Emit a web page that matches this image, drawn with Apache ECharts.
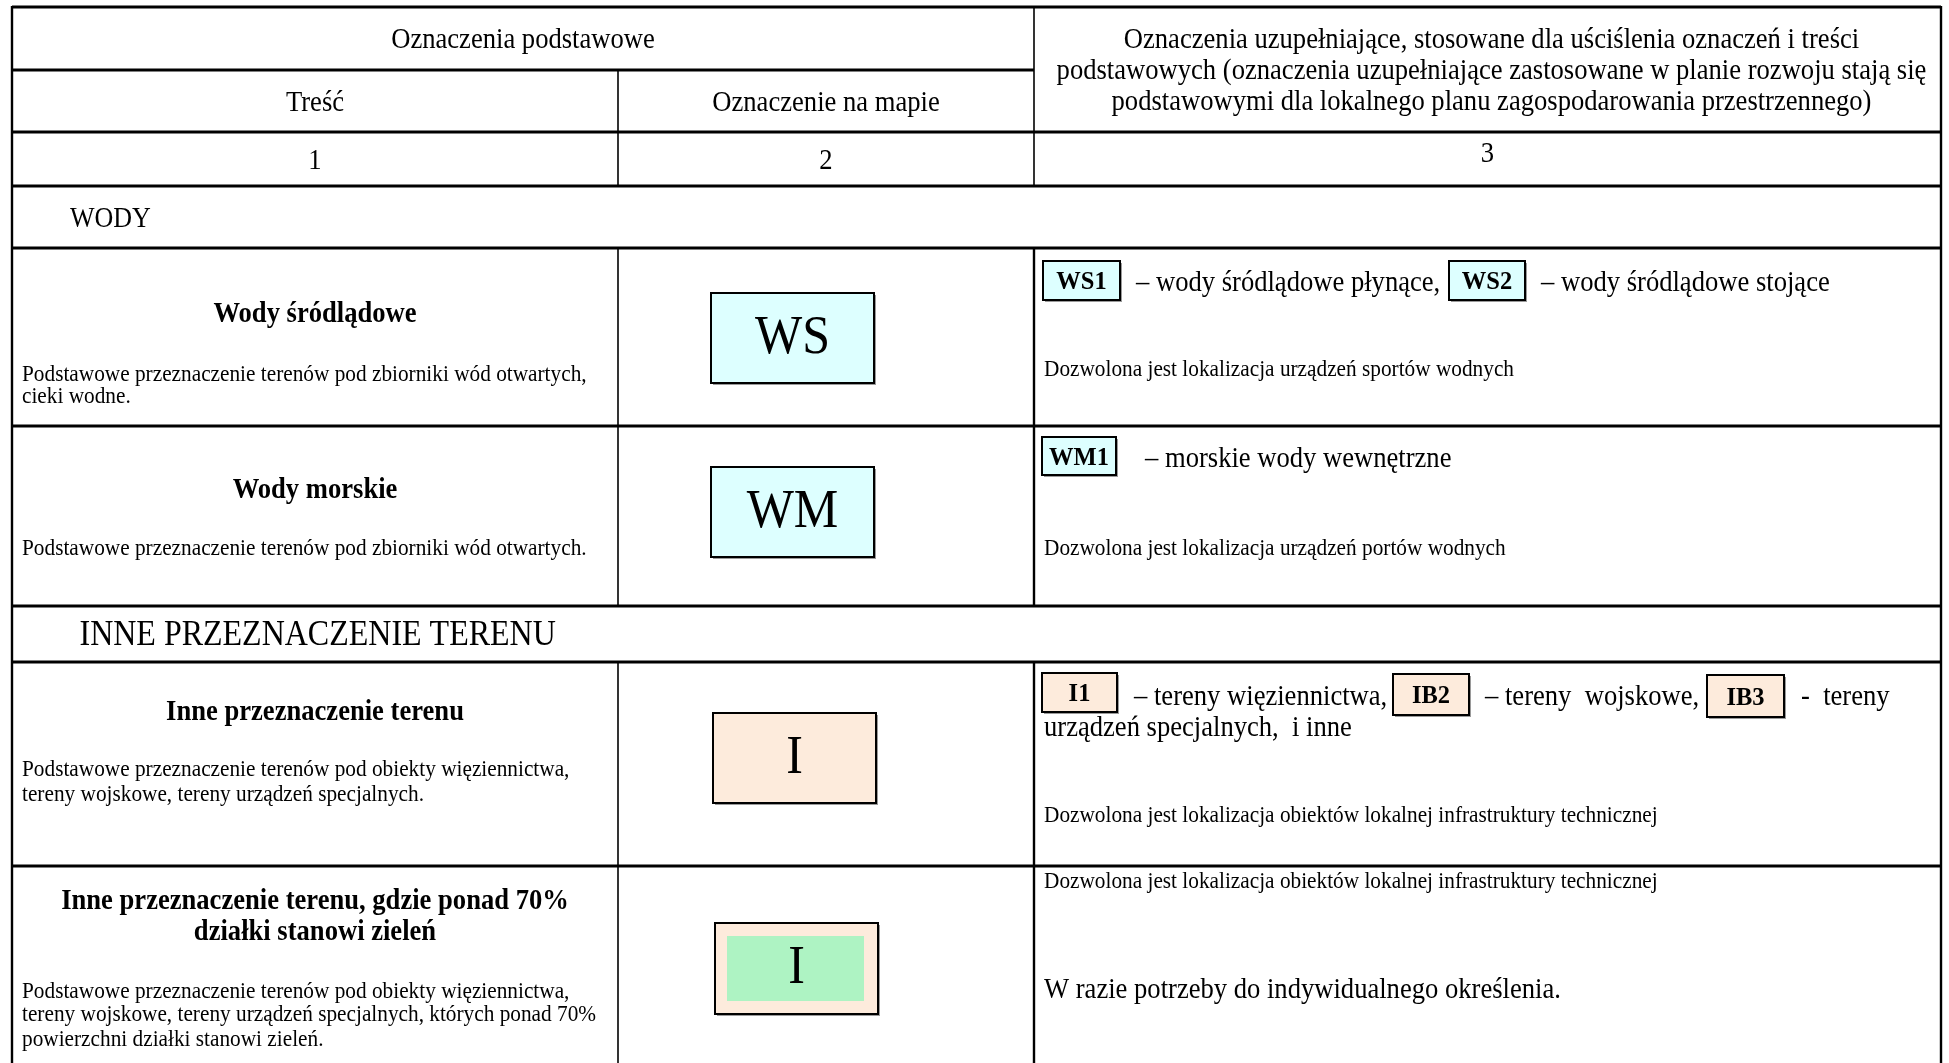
<!DOCTYPE html>
<html>
<head>
<meta charset="utf-8">
<script src="https://cdn.jsdelivr.net/npm/echarts@6/dist/echarts.min.js"></script>
<style>
html,body{margin:0;padding:0;background:#ffffff;}
#chart{width:1949px;height:1063px;}
</style>
</head>
<body>
<div id="chart"></div>
<script>
// ---------- CONTENT (data) ----------
const headerTitle = 'Oznaczenia podstawowe';
const headerColumns = ['Treść', 'Oznaczenie na mapie'];
const headerSupplement = [
  'Oznaczenia uzupełniające, stosowane dla uściślenia oznaczeń i treści',
  'podstawowych (oznaczenia uzupełniające zastosowane w planie rozwoju stają się',
  'podstawowymi dla lokalnego planu zagospodarowania przestrzennego)'
];
const columnNumbers = ['1', '2', '3'];
const sectionTitles = ['WODY', 'INNE PRZEZNACZENIE TERENU'];
const rowTitles = [
  ['Wody śródlądowe'],
  ['Wody morskie'],
  ['Inne przeznaczenie terenu'],
  ['Inne przeznaczenie terenu, gdzie ponad 70%', 'działki stanowi zieleń']
];
const rowDescriptions = [
  ['Podstawowe przeznaczenie terenów pod zbiorniki wód otwartych,', 'cieki wodne.'],
  ['Podstawowe przeznaczenie terenów pod zbiorniki wód otwartych.'],
  ['Podstawowe przeznaczenie terenów pod obiekty więziennictwa,', 'tereny wojskowe, tereny urządzeń specjalnych.'],
  ['Podstawowe przeznaczenie terenów pod obiekty więziennictwa,', 'tereny wojskowe, tereny urządzeń specjalnych, których ponad 70%', 'powierzchni działki stanowi zieleń.']
];
const mapSymbols = ['WS', 'WM', 'I', 'I'];
const codeSegments = [
  [{code: 'WS1'}, {text: '– wody śródlądowe płynące,'}, {code: 'WS2'}, {text: '– wody śródlądowe stojące'}],
  [{code: 'WM1'}, {text: '– morskie wody wewnętrzne'}],
  [{code: 'I1'}, {text: '– tereny więziennictwa,'}, {code: 'IB2'}, {text: '– tereny  wojskowe,'}, {code: 'IB3'}, {text: '-  tereny'}],
  []
];
const codeContinuation = ['', '', 'urządzeń specjalnych,  i inne', ''];
const rowNotes = [
  ['Dozwolona jest lokalizacja urządzeń sportów wodnych'],
  ['Dozwolona jest lokalizacja urządzeń portów wodnych'],
  ['Dozwolona jest lokalizacja obiektów lokalnej infrastruktury technicznej'],
  ['Dozwolona jest lokalizacja obiektów lokalnej infrastruktury technicznej', 'W razie potrzeby do indywidualnego określenia.']
];

// ---------- LAYOUT & STYLE ----------
const FONT = '"Liberation Serif", "Times New Roman", serif';
const CX = 0.9;
const DY = 2;
const X = {L: 12, C1: 618, C2: 1034, R: 1941};
const Y = {top: 7, h1: 70, h2: 132, h3: 186, h4: 248, h5: 426, h6: 606, h7: 662, h8: 866, bottom: 1130};
const titleY = [[313], [488.5], [711], [900, 931]];
const descY = [[373, 395], [547], [768, 793], [989.5, 1013, 1038]];
const symbolBox = [[711, 293, 874, 383], [711, 467, 874, 557], [713, 713, 876, 803], [715, 923, 878, 1014]];
const symbolInner = [null, null, null, [727, 936, 864, 1001]];
const symbolFill = ['#DDFFFF', '#DDFFFF', '#FDEBDC', '#FDEBDC'];
const innerFill = '#AEF3C3';
const codeFill = ['#DDFFFF', '#DDFFFF', '#FDEBDC', null];
const segX = [[1043, 1136, 1449, 1541], [1042, 1145], [1042, 1134, 1393, 1485, 1707, 1801], []];
const segBoxW = [[77, 0, 76, 0], [74, 0], [75, 0, 76, 0, 77, 0], []];
const segBoxY = [[[261, 300], [261, 300]], [[437, 475]], [[673, 712], [674, 715], [675, 717]], []];
const codeLineY = [281, 457, 695, 0];
const contY = [0, 0, 726, 0];
const noteY = [[368], [547], [814], [880, 988]];
const noteSize = [[21.3], [21.3], [21.3], [21.3, 26.6]];
const sectionPos = [[70, 217.5, 26], [79.5, 634, 32]];

const chart = echarts.init(document.getElementById('chart'), null, {renderer: 'canvas'});

function renderTable(params, api) {
  const ch = [];
  const P = (x, y) => api.coord([x, y]);
  const line = (x1, y1, x2, y2, w) => {
    const a = P(x1, y1), b = P(x2, y2);
    ch.push({type: 'line', shape: {x1: a[0], y1: a[1], x2: b[0], y2: b[1]}, style: {stroke: '#000', lineWidth: w}});
  };
  const rect = (x1, y1, x2, y2, fill, stroke, lw) => {
    const a = P(x1, y1), b = P(x2, y2);
    ch.push({type: 'rect', shape: {x: a[0], y: a[1], width: b[0] - a[0], height: b[1] - a[1]},
      style: {fill: fill || 'none', stroke: stroke || null, lineWidth: lw || 0}});
  };
  const txt = (s, x, y, size, align, bold, cx) => {
    const k = cx == null ? CX : cx;
    const p = P(x, y + DY);
    ch.push({type: 'text', x: p[0], y: p[1], scaleX: k,
      style: {text: s, x: 0, y: 0, fill: '#000', align: align || 'left', verticalAlign: 'middle',
        font: (bold ? 'bold ' : '') + (size / k).toFixed(2) + 'px ' + FONT}});
  };

  // header texts
  txt(headerTitle, (X.L + X.C2) / 2, 38.5, 26.6, 'center');
  txt(headerColumns[0], (X.L + X.C1) / 2, 101, 26.6, 'center');
  txt(headerColumns[1], (X.C1 + X.C2) / 2, 101, 26.6, 'center');
  const supY = [38.5, 69.6, 100.7];
  headerSupplement.forEach((s, i) => txt(s, (X.C2 + X.R) / 2 + 4, supY[i], 26.6, 'center'));
  txt(columnNumbers[0], (X.L + X.C1) / 2, 159, 26.6, 'center');
  txt(columnNumbers[1], (X.C1 + X.C2) / 2, 159, 26.6, 'center');
  txt(columnNumbers[2], (X.C2 + X.R) / 2, 152, 26.6, 'center');

  // sections
  sectionTitles.forEach((s, i) => txt(s, sectionPos[i][0], sectionPos[i][1], sectionPos[i][2], 'left'));

  // rows
  rowTitles.forEach((lines, r) => {
    lines.forEach((s, j) => txt(s, (X.L + X.C1) / 2, titleY[r][j], 26.6, 'center', true, 0.93));
    rowDescriptions[r].forEach((s, j) => txt(s, 22, descY[r][j], 21.3, 'left'));
    const b = symbolBox[r];
    rect(b[0] + 2, b[1] + 2, b[2] + 2, b[3] + 2, '#9a9a9a');
    rect(b[0], b[1], b[2], b[3], symbolFill[r], '#000', 2);
    if (symbolInner[r]) {
      const q = symbolInner[r];
      rect(q[0], q[1], q[2], q[3], innerFill);
    }
    txt(mapSymbols[r], (b[0] + b[2]) / 2, (b[1] + b[3]) / 2 - 2, 50, 'center');

    // column 3 codes line
    let boxIdx = 0;
    codeSegments[r].forEach((seg, k) => {
      const x = segX[r][k];
      if (seg.code) {
        const yy = segBoxY[r][boxIdx++];
        const w = segBoxW[r][k];
        rect(x + 2, yy[0] + 2, x + w + 2, yy[1] + 2, '#9a9a9a');
        rect(x, yy[0], x + w, yy[1], codeFill[r], '#000', 2);
        txt(seg.code, x + w / 2, (yy[0] + yy[1]) / 2, 24.5, 'center', true, 0.97);
      } else {
        txt(seg.text, x, codeLineY[r], 26.6, 'left');
      }
    });
    if (codeContinuation[r]) txt(codeContinuation[r], 1044, contY[r], 26.6, 'left');
    rowNotes[r].forEach((s, j) => txt(s, 1044, noteY[r][j], noteSize[r][j], 'left'));
  });

  // grid lines
  const HW = 3, VW = 1.6, OW = 2.4;
  [Y.top, Y.h2, Y.h3, Y.h4, Y.h5, Y.h6, Y.h7, Y.h8].forEach(y => line(X.L, y, X.R, y, HW));
  line(X.L, Y.h1, X.C2, Y.h1, HW);
  line(X.L, Y.top - 1, X.L, Y.bottom, OW);
  line(X.R, Y.top - 1, X.R, Y.bottom, OW);
  line(X.C2, Y.top, X.C2, Y.h3, VW);
  line(X.C2, Y.h4, X.C2, Y.h6, OW);
  line(X.C2, Y.h7, X.C2, Y.bottom, OW);
  line(X.C1, Y.h1, X.C1, Y.h3, VW);
  line(X.C1, Y.h4, X.C1, Y.h6, VW);
  line(X.C1, Y.h7, X.C1, Y.bottom, VW);

  return {type: 'group', children: ch};
}

chart.setOption({
  animation: false,
  backgroundColor: '#ffffff',
  grid: {left: 0, right: 0, top: 0, bottom: 0},
  xAxis: {type: 'value', min: 0, max: 1949, show: false},
  yAxis: {type: 'value', min: 0, max: 1063, inverse: true, show: false},
  series: [{
    type: 'custom',
    coordinateSystem: 'cartesian2d',
    clip: false,
    silent: true,
    renderItem: renderTable,
    data: [[0, 0]]
  }]
});
</script>
</body>
</html>
